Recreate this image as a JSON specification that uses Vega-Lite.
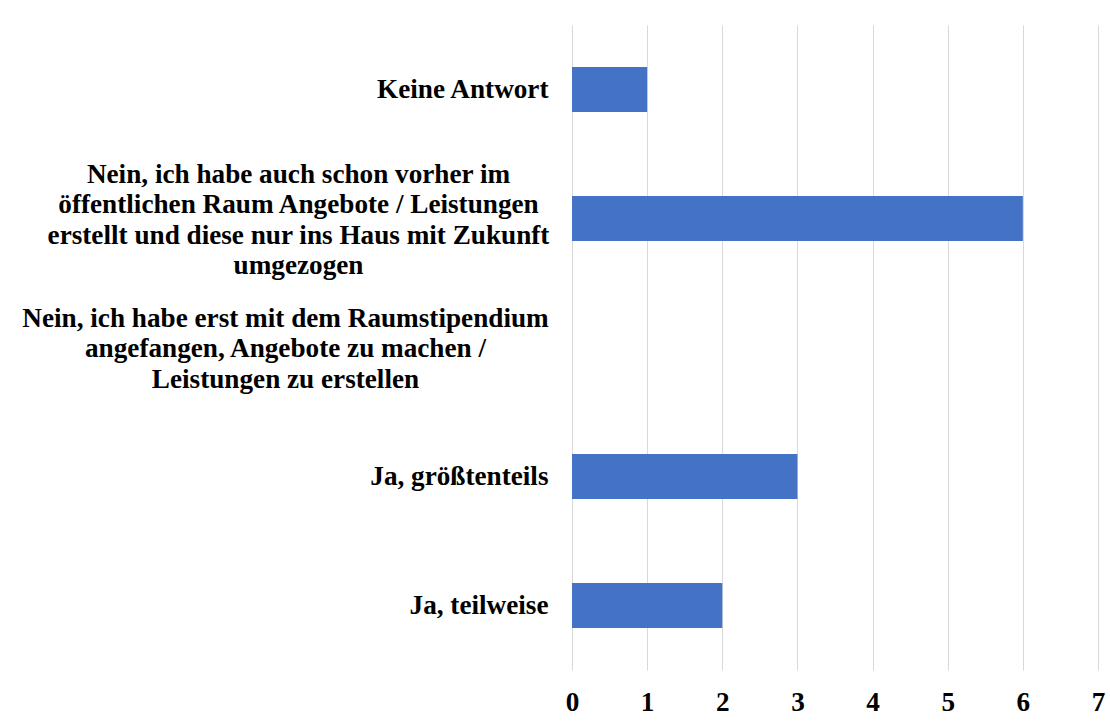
{
  "$schema": "https://vega.github.io/schema/vega-lite/v6.json",
  "autosize": "none",
  "width": 526,
  "height": 645,
  "padding": {"left": 572, "top": 25, "right": 12, "bottom": 54},
  "background": "white",
  "config": {"view": {"stroke": null}},
  "data": {
    "values": [
      {"antwort": "Keine Antwort", "anzahl": 1},
      {"antwort": "Nein, ich habe auch schon vorher im|öffentlichen Raum Angebote / Leistungen|erstellt und diese nur ins Haus mit Zukunft|umgezogen", "anzahl": 6},
      {"antwort": "Nein, ich habe erst mit dem Raumstipendium|angefangen, Angebote zu machen /|Leistungen zu erstellen", "anzahl": 0},
      {"antwort": "Ja, größtenteils", "anzahl": 3},
      {"antwort": "Ja, teilweise", "anzahl": 2}
    ]
  },
  "mark": {"type": "bar", "color": "#4472C4"},
  "encoding": {
    "y": {
      "field": "antwort",
      "type": "nominal",
      "sort": null,
      "scale": {"paddingInner": 0.65, "paddingOuter": 0.325},
      "axis": {
        "title": null,
        "domain": false,
        "ticks": false,
        "labelFont": "Liberation Serif",
        "labelFontWeight": "bold",
        "labelFontSize": 27.2,
        "labelColor": "black",
        "labelLimit": 0,
        "labelLineHeight": 30.5,
        "labelExpr": "split(datum.label, '|')",
        "labelAlign": {"condition": {"test": "indexof(datum.value, '|') >= 0", "value": "center"}, "value": "right"},
        "labelPadding": {"condition": [{"test": "indexof(datum.value, 'auch schon') >= 0", "value": 274}, {"test": "indexof(datum.value, 'erst mit') >= 0", "value": 287}], "value": 24},
        "labelOffset": {"condition": [{"test": "indexof(datum.value, 'auch schon') >= 0", "value": -44}, {"test": "indexof(datum.value, 'erst mit') >= 0", "value": -29}], "value": 0}
      }
    },
    "x": {
      "field": "anzahl",
      "type": "quantitative",
      "scale": {"domain": [0, 7], "nice": false},
      "axis": {
        "title": null,
        "domain": false,
        "ticks": false,
        "grid": true,
        "gridColor": "#d9d9d9",
        "gridWidth": 1,
        "values": [0, 1, 2, 3, 4, 5, 6, 7],
        "labelFont": "Liberation Serif",
        "labelFontWeight": "bold",
        "labelFontSize": 27.2,
        "labelColor": "black",
        "labelPadding": 19,
        "labelFlush": false
      }
    }
  }
}
